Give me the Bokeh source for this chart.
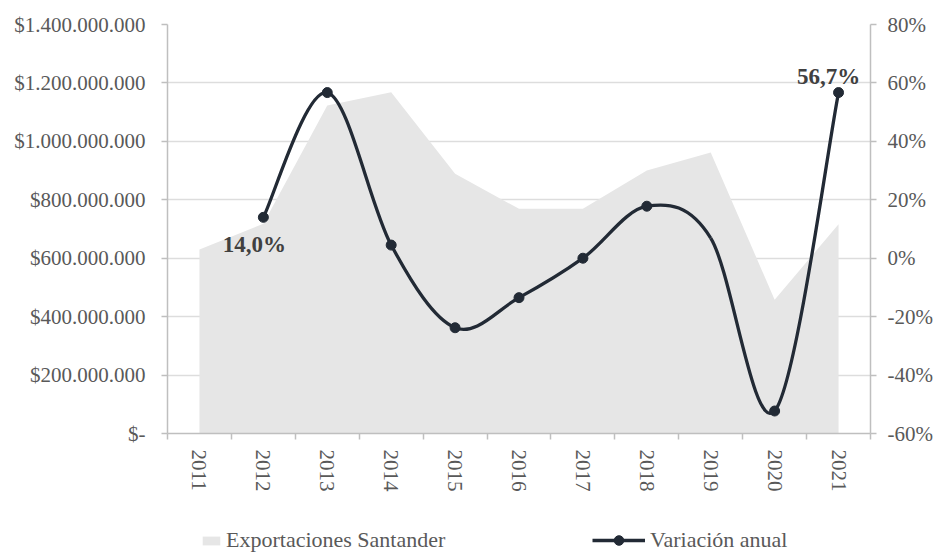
from bokeh.plotting import figure
from bokeh.layouts import column
from bokeh.models import (Range1d, LinearAxis, FixedTicker, Legend, LegendItem,
                          ColumnDataSource)
from bokeh.core.properties import value
from bokeh.embed import file_html
from bokeh.resources import INLINE

# ---------------- data ----------------
years = ["2011", "2012", "2013", "2014", "2015", "2016",
         "2017", "2018", "2019", "2020", "2021"]
exports = [630e6, 718e6, 1123e6, 1168e6, 889e6, 769e6,
           769e6, 900e6, 962e6, 458e6, 716e6]

var_years = ["2012", "2013", "2014", "2015", "2016",
             "2017", "2018", "2019", "2020", "2021"]
variation = [14.0, 56.7, 4.5, -23.8, -13.5, 0.0, 17.8, 6.9, -52.3, 56.7]
marker_shown = [True, True, True, True, True, True, True, False, True, True]

left_ticks = [0, 200000000, 400000000, 600000000, 800000000,
              1000000000, 1200000000, 1400000000]
left_labels = ["$-", "$200.000.000", "$400.000.000", "$600.000.000",
               "$800.000.000", "$1.000.000.000", "$1.200.000.000",
               "$1.400.000.000"]
right_ticks = [-60, -40, -20, 0, 20, 40, 60, 80]
right_labels = ["-60%", "-40%", "-20%", "0%", "20%", "40%", "60%", "80%"]

label_years = ["2012", "2021"]
label_texts = ["14,0%", "56,7%"]

series_names = ["Exportaciones Santander", "Variación anual"]

# ---------------- styles ----------------
FONT = "Liberation Serif"
TXT = "#595959"
AXC = "#BFBFBF"
LINEC = "#222A35"
AREAC = "#E6E6E6"

centers = [i + 0.5 for i in range(len(years))]
pos = {y: c for y, c in zip(years, centers)}

p = figure(width=935, height=510,
           x_range=Range1d(0, len(years)),
           y_range=Range1d(left_ticks[0], left_ticks[-1]),
           output_backend="svg", toolbar_location=None,
           min_border_left=167, min_border_right=63,
           min_border_top=24, min_border_bottom=77)
p.outline_line_color = None
p.background_fill_color = "white"
p.border_fill_color = "white"

p.extra_y_ranges = {"pct": Range1d(right_ticks[0], right_ticks[-1])}

# grid
p.xgrid.visible = False
p.ygrid.ticker = FixedTicker(ticks=left_ticks)
p.ygrid.grid_line_color = "#DDDDDD"
p.ygrid.grid_line_width = 1.5

# left axis
ya = p.yaxis[0]
ya.ticker = FixedTicker(ticks=left_ticks)
ya.major_label_overrides = {t: l for t, l in zip(left_ticks, left_labels)}

# bottom axis
xa = p.xaxis[0]
xa.ticker = FixedTicker(ticks=centers, minor_ticks=list(range(len(years) + 1)))
xa.major_label_overrides = {c: y for c, y in zip(centers, years)}
xa.major_label_orientation = "vertical"
xa.major_tick_out = 0
xa.major_tick_in = 0
xa.minor_tick_out = 6
xa.minor_tick_in = 0
xa.major_label_standoff = 10

# right axis
ra = LinearAxis(y_range_name="pct", ticker=FixedTicker(ticks=right_ticks))
ra.major_label_overrides = {t: l for t, l in zip(right_ticks, right_labels)}
p.add_layout(ra, "right")

for ax in (ya, xa, ra):
    ax.axis_line_color = AXC
    ax.axis_line_width = 1.5
    ax.major_tick_line_color = AXC
    ax.major_tick_line_width = 1.5
    ax.minor_tick_line_color = AXC
    ax.minor_tick_line_width = 1.5
    ax.major_label_text_font = FONT
    ax.major_label_text_font_size = "21px"
    ax.major_label_text_color = TXT
for ax in (ya, ra):
    ax.major_tick_out = 6
    ax.major_tick_in = 0
    ax.minor_tick_out = 0
    ax.minor_tick_in = 0
ya.major_label_standoff = 16
ra.major_label_standoff = 11

# area
area_src = ColumnDataSource(dict(x=centers, y=exports))
p.varea(x="x", y1=0, y2="y", source=area_src, fill_color=AREAC)

# smoothed variation line (Catmull-Rom style bezier through the data points)
vx = [pos[y] for y in var_years]
pts = list(zip(vx, variation))
n = len(pts)
seg = dict(x0=[], y0=[], x1=[], y1=[], cx0=[], cy0=[], cx1=[], cy1=[])
for i in range(n - 1):
    p0 = pts[i - 1] if i > 0 else pts[i]
    p1 = pts[i]
    p2 = pts[i + 1]
    p3 = pts[i + 2] if i + 2 < n else pts[i + 1]
    seg["x0"].append(p1[0]); seg["y0"].append(p1[1])
    seg["x1"].append(p2[0]); seg["y1"].append(p2[1])
    seg["cx0"].append(p1[0] + (p2[0] - p0[0]) / 6.0)
    seg["cy0"].append(p1[1] + (p2[1] - p0[1]) / 6.0)
    seg["cx1"].append(p2[0] - (p3[0] - p1[0]) / 6.0)
    seg["cy1"].append(p2[1] - (p3[1] - p1[1]) / 6.0)
p.bezier(x0="x0", y0="y0", x1="x1", y1="y1", cx0="cx0", cy0="cy0",
         cx1="cx1", cy1="cy1", source=ColumnDataSource(seg),
         y_range_name="pct", line_color=LINEC, line_width=3.3)

line_src = ColumnDataSource(dict(x=vx, y=variation))
mk_src = ColumnDataSource(dict(
    x=[x for x, s in zip(vx, marker_shown) if s],
    y=[v for v, s in zip(variation, marker_shown) if s]))
p.scatter(x="x", y="y", source=mk_src, y_range_name="pct", size=10,
          marker="circle", fill_color=LINEC, line_color=LINEC)

# data labels
lab_src = ColumnDataSource(dict(
    x=[pos[y] for y in label_years],
    y=[variation[var_years.index(y)] for y in label_years],
    text=label_texts,
    xo=[-9, -10],
    yo=[27, -16]))
p.text(x="x", y="y", text="text", source=lab_src, y_range_name="pct",
       x_offset="xo", y_offset="yo",
       text_font=value(FONT), text_font_style="bold", text_font_size="23px",
       text_color="#404040", text_align="center", text_baseline="alphabetic")

# ---------------- legend strip ----------------
# Same series, drawn in a strip whose view range excludes them, so only the
# legend entries are visible.
lg = figure(width=935, height=43,
            x_range=Range1d(-20, -19), y_range=Range1d(-2e9, -1.9e9),
            x_axis_type=None, y_axis_type=None,
            output_backend="svg", toolbar_location=None,
            min_border_left=167, min_border_right=63,
            min_border_top=0, min_border_bottom=0)
lg.outline_line_color = None
lg.xgrid.visible = False
lg.ygrid.visible = False
r_area = lg.varea(x="x", y1=0, y2="y", source=area_src, fill_color=AREAC)
r_line = lg.line(x="x", y="y", source=line_src,
                 line_color=LINEC, line_width=3.3)
r_mk = lg.scatter(x="x", y="y", source=mk_src, size=10,
                  marker="circle", fill_color=LINEC, line_color=LINEC)

common = dict(padding=0, margin=0, border_line_color=None,
              background_fill_alpha=0, label_text_font=FONT,
              label_text_font_size="22px", label_text_color=TXT,
              label_height=11)
leg1 = Legend(items=[LegendItem(label=series_names[0], renderers=[r_area])],
              location=(33, 0), glyph_width=22, glyph_height=11,
              label_standoff=4, **common)
leg2 = Legend(items=[LegendItem(label=series_names[1], renderers=[r_line, r_mk])],
              location=(425, 0), glyph_width=53, glyph_height=24,
              label_standoff=5, **common)
lg.add_layout(leg1, "center")
lg.add_layout(leg2, "center")

layout = column(p, lg, spacing=0)

open("out.html", "w").write(file_html(layout, INLINE))
